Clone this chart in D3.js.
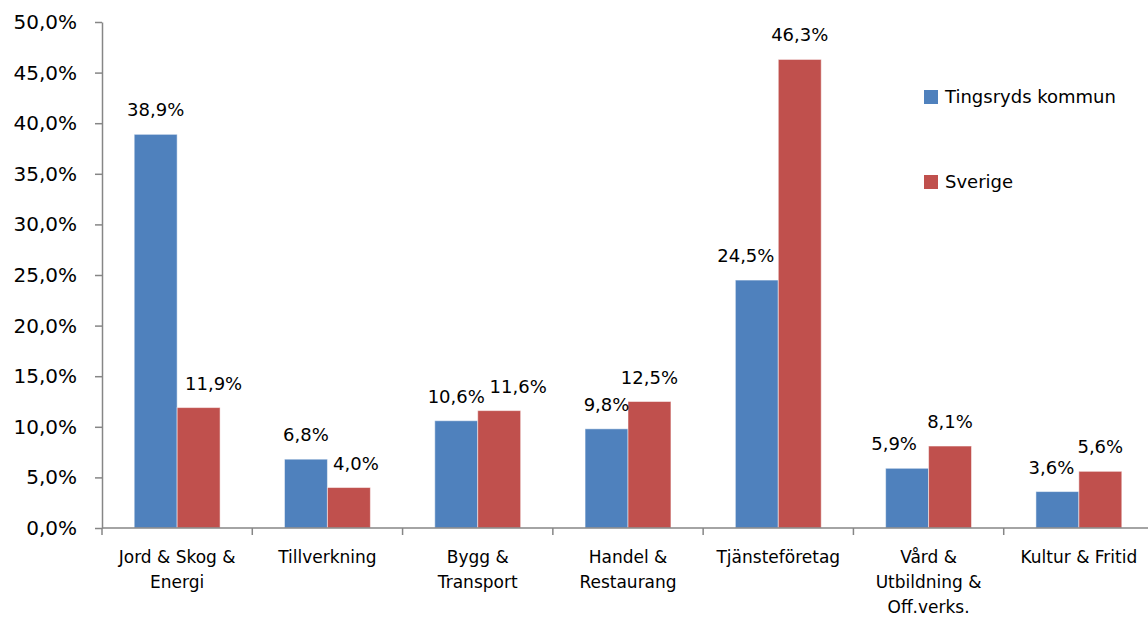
<!DOCTYPE html>
<html lang="sv">
<head>
  <meta charset="UTF-8">
  <title>Tingsryd vs Sverige</title>
  <style>
    body { margin: 0; background: #fff; }
    svg { font-family: "DejaVu Sans", sans-serif; display: block; }
  </style>
</head>
<body>
  <div id="chart"></div>
  <script src="https://d3js.org/d3.v7.min.js"></script>
  <script>
    // data
    var categories = ["Jord & Skog & Energi", "Tillverkning", "Bygg & Transport", "Handel & Restaurang",
                      "Tjänsteföretag", "Vård & Utbildning & Off.verks.", "Kultur & Fritid"];
    var categoryLines = [["Jord & Skog &", "Energi"], ["Tillverkning"], ["Bygg &", "Transport"],
                         ["Handel &", "Restaurang"], ["Tjänsteföretag"], ["Vård &", "Utbildning &", "Off.verks."],
                         ["Kultur & Fritid"]];
    var seriesNames = ["Tingsryds kommun", "Sverige"];
    var tingsryd = [38.9, 6.8, 10.6, 9.8, 24.5, 5.9, 3.6];
    var sverige = [11.9, 4.0, 11.6, 12.5, 46.3, 8.1, 5.6];
    var yTicks = [0, 5, 10, 15, 20, 25, 30, 35, 40, 45, 50];
    var colors = ["#4F81BD", "#C0504D"];

    // labels were hand-moved in the original so they don't collide
    var labelShift = [[0, 0, 0, 0, -11, -13, -6], [15, 7, 19, 0, 0, 0, 0]];

    var width = 1148, height = 619;
    var margin = {top: 22, left: 102, bottom: 91};
    var plotRight = 1154;

    var svg = d3.select("#chart").append("svg")
      .attr("width", width)
      .attr("height", height);

    var x = d3.scaleBand()
      .domain(categories)
      .range([margin.left, plotRight])
      .paddingInner(0)
      .paddingOuter(0);

    var x1 = d3.scaleBand()
      .domain(seriesNames)
      .range([0, x.bandwidth()])
      .paddingInner(0)
      .paddingOuter(0.75);

    var y = d3.scaleLinear()
      .domain([0, 50])
      .range([height - margin.bottom, margin.top]);

    var fmt = function(v) { return v.toFixed(1).replace(".", ",") + "%"; };

    // y axis
    var yAxis = svg.append("g")
      .attr("transform", "translate(" + margin.left + ",0)")
      .call(d3.axisLeft(y).tickValues(yTicks).tickSize(7).tickSizeOuter(0).tickPadding(18).tickFormat(fmt));
    yAxis.select(".domain").attr("stroke", "#868686").attr("stroke-width", 1.5);
    yAxis.selectAll(".tick line").attr("stroke", "#868686").attr("stroke-width", 1.5);
    yAxis.selectAll(".tick text")
      .attr("font-size", 20)
      .attr("fill", "#000")
      .attr("font-family", "DejaVu Sans, sans-serif");

    // bars
    var rows = categories.map(function(c, i) {
      return {cat: c, i: i, values: [tingsryd[i], sverige[i]]};
    });

    var groups = svg.selectAll("g.grp")
      .data(rows)
      .enter().append("g")
      .attr("class", "grp")
      .attr("transform", function(d) { return "translate(" + x(d.cat) + ",0)"; });

    var cells = function(d) {
      return d.values.map(function(v, j) { return {s: seriesNames[j], v: v, j: j, i: d.i}; });
    };

    groups.selectAll("rect")
      .data(cells)
      .enter().append("rect")
      .attr("x", function(d) { return x1(d.s); })
      .attr("y", function(d) { return y(d.v); })
      .attr("width", x1.bandwidth())
      .attr("height", function(d) { return y(0) - y(d.v); })
      .attr("fill", function(d) { return colors[d.j]; })
      .attr("stroke", "rgba(255,255,255,0.5)")
      .attr("stroke-width", 1);

    groups.selectAll("text.val")
      .data(cells)
      .enter().append("text")
      .attr("class", "val")
      .attr("x", function(d) { return x1(d.s) + x1.bandwidth() / 2 + labelShift[d.j][d.i]; })
      .attr("y", function(d) { return y(d.v) - 18; })
      .attr("text-anchor", "middle")
      .attr("font-size", 18)
      .attr("fill", "#000")
      .text(function(d) { return fmt(d.v); });

    // x axis line and tick marks at category boundaries
    var x0 = y(0);
    svg.append("line")
      .attr("x1", margin.left).attr("x2", plotRight)
      .attr("y1", x0).attr("y2", x0)
      .attr("stroke", "#868686").attr("stroke-width", 1.5);

    var edges = categories.map(function(c) { return x(c); }).concat([plotRight]);
    svg.selectAll("line.xtick")
      .data(edges)
      .enter().append("line")
      .attr("class", "xtick")
      .attr("x1", function(d) { return d; }).attr("x2", function(d) { return d; })
      .attr("y1", x0).attr("y2", x0 + 7)
      .attr("stroke", "#868686").attr("stroke-width", 1.5);

    // category labels
    var catText = svg.selectAll("text.cat")
      .data(categories)
      .enter().append("text")
      .attr("class", "cat")
      .attr("text-anchor", "middle")
      .attr("font-size", 17)
      .attr("fill", "#000")
      .attr("transform", function(d) { return "translate(" + (x(d) + x.bandwidth() / 2) + "," + (x0 + 35) + ")"; });

    catText.selectAll("tspan")
      .data(function(d, i) { return categoryLines[i]; })
      .enter().append("tspan")
      .attr("x", 0)
      .attr("y", function(d, i) { return i * 25; })
      .text(function(d) { return d; });

    // legend
    var legendY = [90, 175];
    var legend = svg.selectAll("g.leg")
      .data(seriesNames)
      .enter().append("g")
      .attr("class", "leg")
      .attr("transform", function(d, i) { return "translate(924," + legendY[i] + ")"; });
    legend.append("rect")
      .attr("width", 14).attr("height", 14)
      .attr("fill", function(d, i) { return colors[i]; });
    legend.append("text")
      .attr("x", 21).attr("y", 13)
      .attr("font-size", 18)
      .attr("fill", "#000")
      .text(function(d) { return d; });
  </script>
</body>
</html>
